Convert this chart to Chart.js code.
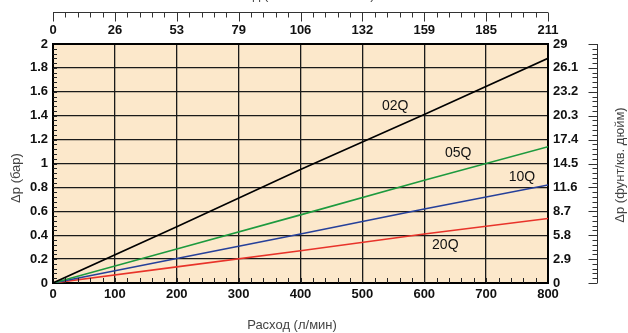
<!DOCTYPE html>
<html lang="ru">
  <head>
    <meta charset="UTF-8" />
    <title>Перепад давления</title>
    <script src="https://cdn.jsdelivr.net/npm/chart.js"></script>
    <style>
      body {
        margin: 0;
        background: #fff;
      }
      .wrap {
        width: 628px;
        height: 333px;
      }
    </style>
  </head>
  <body>
    <div class="wrap"><canvas id="flowChart"></canvas></div>

    <script>
      // flow, l/min
      var flowValues = [0, 200, 400, 600, 800];

      // pressure drop, bar
      var dp02Q = [0, 0.47, 0.95, 1.41, 1.88];
      var dp05Q = [0, 0.285, 0.57, 0.86, 1.14];
      var dp10Q = [0, 0.205, 0.41, 0.62, 0.82];
      var dp20Q = [0, 0.135, 0.27, 0.41, 0.54];

      var seriesNames = ["02Q", "05Q", "10Q", "20Q"];
      // where the series names sit (l/min, bar)
      var nameX = [553, 655, 758, 634];
      var nameY = [1.48, 1.09, 0.89, 0.32];

      var topLabels = ["0", "26", "53", "79", "106", "132", "159", "185", "211"];
      var rightLabels = ["0", "2.9", "5.8", "8.7", "11.6", "14.5", "17.4", "20.3", "23.2", "26.1", "29"];

      var FONT = "'Liberation Sans', Arial, sans-serif";

      function toPoints(ys) {
        return flowValues.map(function (x, i) {
          return { x: x, y: ys[i] };
        });
      }

      var lineColors = ["#000000", "#1d9a3e", "#26409a", "#e8332a"];
      var allSeries = [dp02Q, dp05Q, dp10Q, dp20Q];

      var datasets = allSeries.map(function (ys, i) {
        return {
          label: seriesNames[i],
          data: toPoints(ys),
          borderColor: lineColors[i],
          borderWidth: 1.6,
          pointRadius: 0,
          tension: 0,
        };
      });

      // background, inner minor ticks, rulers, titles and line names
      var decorations = {
        id: "decorations",
        beforeDraw: function (chart) {
          var a = chart.chartArea;
          var ctx = chart.ctx;
          ctx.save();
          ctx.fillStyle = "#fce8cb";
          ctx.fillRect(a.left, a.top, a.right - a.left, a.bottom - a.top);
          ctx.restore();
        },
        afterDraw: function (chart) {
          var ctx = chart.ctx;
          var a = chart.chartArea;
          var x = chart.scales.x;
          var y = chart.scales.y;
          var x2 = chart.scales.x2;
          var y2 = chart.scales.y2;
          var i, p;

          ctx.save();
          // minor ticks inside the plot, left and bottom
          ctx.strokeStyle = "#222";
          ctx.lineWidth = 1;
          ctx.beginPath();
          for (i = 1; i < 50; i++) {
            p = Math.round(y.getPixelForValue(i * 0.04)) + 0.5;
            ctx.moveTo(a.left, p);
            ctx.lineTo(a.left + 4, p);
          }
          for (i = 1; i < 40; i++) {
            p = Math.round(x.getPixelForValue(i * 20)) + 0.5;
            ctx.moveTo(p, a.bottom);
            ctx.lineTo(p, a.bottom - 5);
          }
          ctx.stroke();

          // top ruler (gal/min)
          var rulerY = 12.5;
          ctx.strokeStyle = "#333";
          ctx.beginPath();
          ctx.moveTo(x2.getPixelForValue(0), rulerY);
          ctx.lineTo(x2.getPixelForValue(8), rulerY);
          for (i = 0; i <= 40; i++) {
            p = Math.round(x2.getPixelForValue(i * 0.2)) + 0.5;
            ctx.moveTo(p, rulerY);
            ctx.lineTo(p, rulerY + (i % 5 === 0 ? 9 : 5));
          }
          // right ruler (psi)
          var rulerX = 597.5;
          ctx.moveTo(rulerX, y2.getPixelForValue(0));
          ctx.lineTo(rulerX, y2.getPixelForValue(10));
          for (i = 0; i <= 50; i++) {
            p = Math.round(y2.getPixelForValue(i * 0.2)) + 0.5;
            ctx.moveTo(rulerX, p);
            ctx.lineTo(rulerX - (i % 5 === 0 ? 9 : 5), p);
          }
          ctx.stroke();

          // axis titles
          ctx.fillStyle = "#444";
          ctx.font = "13px " + FONT;
          ctx.textAlign = "center";
          ctx.textBaseline = "middle";
          ctx.fillText("Расход (л/мин)", 292, 325);
          // top title is cut off by the picture edge
          ctx.textBaseline = "alphabetic";
          ctx.fillText("Расход (галлон США/мин)", 296, -1);
          ctx.textBaseline = "middle";

          ctx.save();
          ctx.translate(16, 178);
          ctx.rotate(-Math.PI / 2);
          ctx.fillText("Δp (бар)", 0, 0);
          ctx.restore();

          ctx.save();
          ctx.translate(620, 165);
          ctx.rotate(-Math.PI / 2);
          ctx.fillText("Δp (фунт/кв. дюйм)", 0, 0);
          ctx.restore();

          // series names
          ctx.fillStyle = "#111";
          ctx.font = "14px " + FONT;
          for (i = 0; i < seriesNames.length; i++) {
            ctx.fillText(
              seriesNames[i],
              x.getPixelForValue(nameX[i]),
              y.getPixelForValue(nameY[i])
            );
          }
          ctx.restore();
        },
      };

      var tickFont = { family: FONT, size: 13, weight: "bold" };

      new Chart(document.getElementById("flowChart").getContext("2d"), {
        type: "line",
        data: { datasets: datasets },
        plugins: [decorations],
        options: {
          responsive: true,
          maintainAspectRatio: false,
          animation: false,
          layout: { padding: 0 },
          plugins: {
            legend: { display: false },
            tooltip: { enabled: false },
          },
          scales: {
            x: {
              type: "linear",
              position: "bottom",
              min: 0,
              max: 800,
              ticks: { stepSize: 100, color: "#111", font: tickFont, padding: 4, maxRotation: 0 },
              grid: { color: "#1a1a1a", lineWidth: 1.3, drawTicks: false },
              border: { display: true, color: "#000", width: 2 },
              afterFit: function (s) {
                s.height = 50;
              },
            },
            x2: {
              type: "linear",
              position: "top",
              min: 0,
              max: 8,
              ticks: {
                stepSize: 1,
                color: "#111",
                font: tickFont,
                padding: 6,
                maxRotation: 0,
                callback: function (v, i) {
                  return topLabels[i];
                },
              },
              grid: { drawOnChartArea: false, drawTicks: false },
              border: { display: true, color: "#000", width: 2 },
              afterFit: function (s) {
                s.height = 44;
              },
            },
            y: {
              type: "linear",
              position: "left",
              min: 0,
              max: 2,
              ticks: {
                stepSize: 0.2,
                color: "#111",
                font: tickFont,
                padding: 5,
                callback: function (v) {
                  return String(Math.round(v * 10) / 10);
                },
              },
              grid: { color: "#1a1a1a", lineWidth: 1.3, drawTicks: false },
              border: { display: true, color: "#000", width: 2 },
              afterFit: function (s) {
                s.width = 53;
              },
            },
            y2: {
              type: "linear",
              position: "right",
              min: 0,
              max: 10,
              ticks: {
                stepSize: 1,
                color: "#111",
                font: tickFont,
                padding: 5,
                callback: function (v, i) {
                  return rightLabels[i];
                },
              },
              grid: { drawOnChartArea: false, drawTicks: false },
              border: { display: true, color: "#000", width: 2 },
              afterFit: function (s) {
                s.width = 80;
              },
            },
          },
        },
      });
    </script>
  </body>
</html>
